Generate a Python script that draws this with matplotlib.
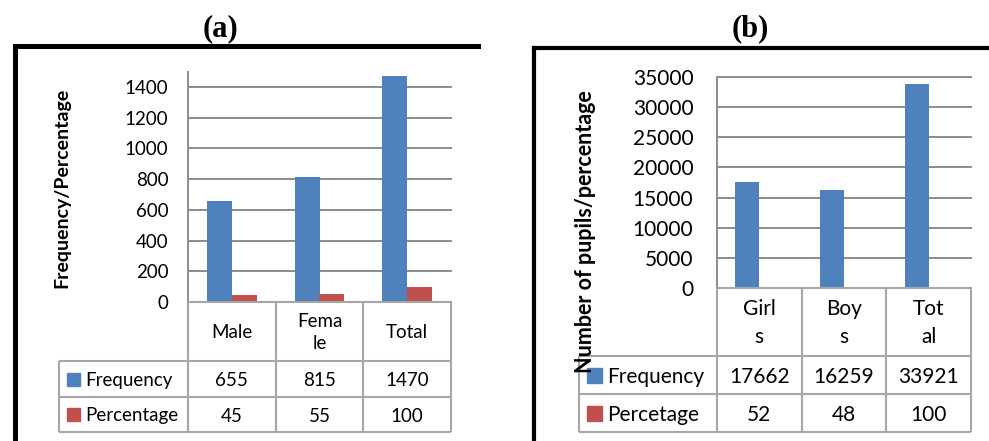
import numpy as np
import matplotlib
matplotlib.use('Agg')
import matplotlib.pyplot as plt
from matplotlib.lines import Line2D
from matplotlib.patches import Rectangle

# panel (a): pupils by gender
cats_a = ['Male', 'Fema\nle', 'Total']
freq_a = [655, 815, 1470]
pct_a = [45, 55, 100]
rows_a = ['Frequency', 'Percentage']

# panel (b): pupils enrolled
cats_b = ['Girl\ns', 'Boy\ns', 'Tot\nal']
freq_b = [17662, 16259, 33921]
pct_b = [52, 48, 100]
rows_b = ['Frequency', 'Percetage']

W, H = 989, 441
BLUE = '#4f81bd'
RED = '#c0504d'
GRID = '#8c8c8c'
CELL = '#a6a6a6'

plt.rcParams['font.family'] = ['Lato', 'DejaVu Sans']

fig = plt.figure(figsize=(W / 100, H / 100), dpi=100)


def px_axes(x0, y0, x1, y1):
    """axes placed by pixel box (top-left, bottom-right)"""
    return fig.add_axes([x0 / W, 1 - y1 / H, (x1 - x0) / W, (y1 - y0) / H])


def frame(x_left, y_top, x_right, lw):
    kw = dict(color='black', lw=lw, solid_capstyle='projecting', transform=fig.transFigure)
    fig.add_artist(Line2D([x_left / W, x_left / W], [-0.05, 1 - y_top / H], **kw))
    fig.add_artist(Line2D([x_left / W, x_right / W], [1 - y_top / H, 1 - y_top / H], **kw))


def panel(cats, freq, pct, rows, box, ymax, ystep, lab_left, row_y, fs, pad, sq, lsp):
    x0, y0, x1, y1 = box
    n = len(cats)
    cw = (x1 - x0) / n
    x = np.arange(n)
    w = 0.285

    ax = px_axes(x0, y0, x1, y1)
    ax.bar(x - w / 2, freq, w, color=BLUE, zorder=3)
    ax.bar(x + w / 2, pct, w, color=RED, zorder=3)
    ax.set_xlim(-0.5, n - 0.5)
    ax.set_ylim(0, ymax)
    ticks = np.arange(0, ymax + 1, ystep)
    for t in ticks:
        ax.axhline(t, color=GRID, lw=1.4, zorder=1, clip_on=False)
    ax.set_yticks(ticks)
    ax.set_xticks([])
    ax.tick_params(axis='y', length=0, pad=pad, labelsize=fs)
    for s in ['top', 'right', 'bottom']:
        ax.spines[s].set_visible(False)
    ax.spines['left'].set_color(GRID)
    ax.spines['left'].set_linewidth(1.4)
    ax.patch.set_visible(False)

    # data table under the bars
    tb = px_axes(lab_left, row_y[0], x1, row_y[-1])
    lab_w = (x0 - lab_left) / cw
    tb.set_xlim(-0.5 - lab_w, n - 0.5)
    tb.set_ylim(row_y[-1], row_y[0])
    tb.axis('off')
    lk = dict(color=CELL, lw=1.5, clip_on=False)
    tb.hlines(row_y[0], -0.5, n - 0.5, **lk)
    for yy in row_y[1:]:
        tb.hlines(yy, -0.5 - lab_w, n - 0.5, **lk)
    for k in range(n + 1):
        tb.vlines(k - 0.5, row_y[0], row_y[-1], **lk)
    tb.vlines(-0.5 - lab_w, row_y[1], row_y[-1], **lk)

    for i, c in enumerate(cats):
        tb.text(i, (row_y[0] + row_y[1]) / 2 + 1, c, ha='center', va='center',
                fontsize=fs, linespacing=lsp)
    for r, (name, vals, col) in enumerate(zip(rows, [freq, pct], [BLUE, RED])):
        yc = (row_y[r + 1] + row_y[r + 2]) / 2
        for i, v in enumerate(vals):
            tb.text(i, yc, str(v), ha='center', va='center_baseline', fontsize=fs)
        sx = -0.5 - lab_w + sq[0] / cw
        tb.add_patch(Rectangle((sx, yc - sq[1] / 2), sq[1] / cw, sq[1],
                               color=col, clip_on=False))
        tb.text(sx + (sq[1] + sq[2]) / cw, yc, name, ha='left',
                va='center_baseline', fontsize=fs)


# (a)
frame(14.5, 45.5, 477.5, 3.6)
fig.text(221 / W, 1 - 28.5 / H, '(a)', family='Liberation Serif', weight='bold',
         size=22, ha='center', va='center')
panel(cats_a, freq_a, pct_a, rows_a, (188, 71.6, 451, 302), 1500, 200,
      59, [302, 361, 397, 432], 13.5, 14, (8, 13, 5), 1.3)
fig.text(62 / W, 1 - 188 / H, 'Frequency/Percentage', rotation=90, ha='center',
         va='center', weight='bold', fontsize=14)

# (b)
frame(534, 47.5, 1000, 3.0)
fig.text(750 / W, 1 - 28.5 / H, '(b)', family='Liberation Serif', weight='bold',
         size=22, ha='center', va='center')
panel(cats_b, freq_b, pct_b, rows_b, (717, 77, 971, 288), 35000, 5000,
      579, [288, 356, 394, 432], 15, 17, (8, 15, 5), 1.5)
fig.text(585 / W, 1 - 232 / H, 'Number of pupils/percentage', rotation=90,
         ha='center', va='center', weight='bold', fontsize=15.5)

fig.savefig('out.png', dpi=100)
